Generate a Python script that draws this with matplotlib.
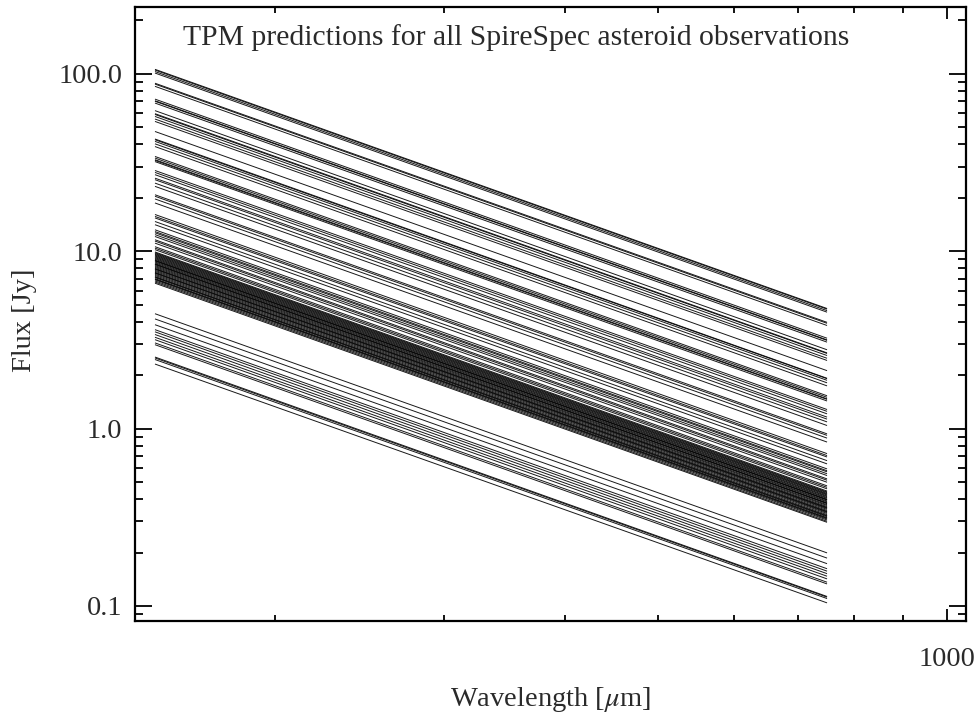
import matplotlib
matplotlib.use("Agg")
import matplotlib.pyplot as plt
from matplotlib.ticker import FixedLocator, FixedFormatter, LogLocator, NullFormatter

# TPM model fluxes (Jy) at the two ends of the plotted wavelength range
WAVE_START = 150.0   # micron
WAVE_END = 750.0     # micron

flux_start = [
    106, 105, 103, 101, 88.5, 87.5, 85, 72, 70.5, 70, 68.4, 62, 59.6, 59, 57.5,
    55.6, 53.9, 47.3, 42.9, 42.5, 41.6, 40.3, 38.9, 34.2, 33.5, 32.8, 32.5, 32.0,
    28.5, 27.8, 27.0, 25.8, 25.3, 24.2, 23.2, 20.8, 20.4, 19.7, 18.7, 16.1, 15.7,
    15.4, 14.7, 14.1, 13.2, 12.9, 12.7, 12.4, 12.1, 11.6, 11.4, 11.1, 10.6, 10.4,
    10.2,
    9.9, 9.8, 9.7, 9.6, 9.5, 9.4, 9.3, 9.2, 9.1, 9.0, 8.9, 8.85, 8.8, 8.7, 8.6,
    8.5, 8.45, 8.4, 8.3, 8.2, 8.1, 8.0, 7.95, 7.9, 7.8, 7.7, 7.6, 7.55, 7.5, 7.4,
    7.3, 7.2, 7.15, 7.1, 7.0, 6.95, 6.9, 6.8, 6.7, 6.6,
    4.44, 4.15, 3.85, 3.61, 3.51, 3.39, 3.27, 3.17, 3.04, 2.97, 2.53, 2.50, 2.45,
    2.31,
]

flux_end = [
    4.75, 4.71, 4.62, 4.53, 3.97, 3.92, 3.81, 3.23, 3.16, 3.14, 3.07, 2.78, 2.67,
    2.65, 2.58, 2.49, 2.42, 2.12, 1.92, 1.91, 1.87, 1.81, 1.74, 1.53, 1.50, 1.47,
    1.46, 1.43, 1.28, 1.25, 1.21, 1.16, 1.13, 1.09, 1.04, 0.933, 0.915, 0.883,
    0.839, 0.722, 0.704, 0.691, 0.659, 0.632, 0.592, 0.578, 0.570, 0.556, 0.543,
    0.520, 0.511, 0.498, 0.475, 0.466, 0.457,
    0.444, 0.439, 0.435, 0.430, 0.426, 0.422, 0.417, 0.413, 0.408, 0.404, 0.399,
    0.397, 0.395, 0.390, 0.386, 0.381, 0.379, 0.377, 0.372, 0.368, 0.363, 0.359,
    0.357, 0.354, 0.350, 0.345, 0.341, 0.339, 0.336, 0.332, 0.327, 0.323, 0.321,
    0.318, 0.314, 0.312, 0.309, 0.305, 0.300, 0.296,
    0.199, 0.186, 0.173, 0.162, 0.157, 0.152, 0.147, 0.142, 0.136, 0.133, 0.113,
    0.112, 0.110, 0.104,
]

y_ticks = [0.1, 1.0, 10.0, 100.0]
y_ticklabels = ["0.1", "1.0", "10.0", "100.0"]
x_ticks = [1000]
x_ticklabels = ["1000"]

plt.rcParams["font.family"] = ["Liberation Serif", "DejaVu Serif"]
plt.rcParams["mathtext.fontset"] = "stix"

TXT = "#2a2a2a"
FS = 20.5

fig = plt.figure(figsize=(9.77, 7.17), dpi=100)
ax = fig.add_axes([0.1382, 0.1339, 0.8505, 0.8563])

for fs, fe in zip(flux_start, flux_end):
    ax.plot([WAVE_START, WAVE_END], [fs, fe], color="black", lw=0.7, alpha=0.9,
            solid_capstyle="butt")

ax.set_xscale("log")
ax.set_yscale("log")
ax.set_xlim(143, 1046)
ax.set_ylim(0.0822, 238)

ax.xaxis.set_major_locator(FixedLocator(x_ticks))
ax.xaxis.set_major_formatter(FixedFormatter(x_ticklabels))
ax.xaxis.set_minor_locator(LogLocator(base=10, subs=range(2, 10)))
ax.xaxis.set_minor_formatter(NullFormatter())
ax.yaxis.set_major_locator(FixedLocator(y_ticks))
ax.yaxis.set_major_formatter(FixedFormatter(y_ticklabels))
ax.yaxis.set_minor_locator(LogLocator(base=10, subs=range(2, 10)))
ax.yaxis.set_minor_formatter(NullFormatter())

ax.tick_params(axis="both", which="both", direction="in", top=True, right=True,
               colors="black", labelcolor=TXT, labelsize=FS, width=1.3)
ax.tick_params(axis="x", which="major", length=8.6, pad=19)
ax.tick_params(axis="x", which="minor", length=4.3)
ax.tick_params(axis="y", which="major", length=12.2, pad=9)
ax.tick_params(axis="y", which="minor", length=6)
for spine in ax.spines.values():
    spine.set_linewidth(1.6)

ax.text(0.058, 0.95, "TPM predictions for all SpireSpec asteroid observations",
        transform=ax.transAxes, fontsize=21.3, color=TXT, ha="left", va="center")

ax.set_xlabel(r"Wavelength [$\mu$m]", fontsize=FS, color=TXT)
ax.set_ylabel("Flux [Jy]", fontsize=FS, color=TXT)
ax.xaxis.set_label_coords(0.5, -0.104)
ax.yaxis.set_label_coords(-0.118, 0.49)

fig.savefig("out.png", dpi=100)
